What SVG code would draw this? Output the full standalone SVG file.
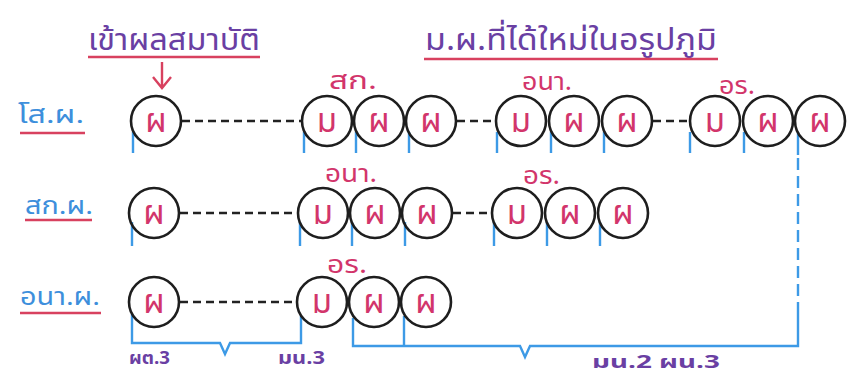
<svg xmlns="http://www.w3.org/2000/svg" width="854" height="382" viewBox="0 0 854 382">
<style>
.c{fill:none;stroke:#1e1e1e;stroke-width:2.6}
.t{font-family:"Noto Sans Thai","Noto Sans","DejaVu Sans",sans-serif;font-size:33px;fill:#d2356b;text-anchor:middle}
.lab{font-family:"Noto Sans Thai","Noto Sans","DejaVu Sans",sans-serif;font-size:25px;fill:#d2356b}
.row{font-family:"Noto Sans Thai","Noto Sans","DejaVu Sans",sans-serif;font-size:24px;fill:#3d8fdc}
.ttl{font-family:"Noto Sans Thai","Noto Sans","DejaVu Sans",sans-serif;font-size:30px;fill:#6a3fa3}
.bot{font-family:"Noto Sans Thai","Noto Sans","DejaVu Sans",sans-serif;font-size:17px;fill:#6a3fa3;font-weight:bold}
.ul{stroke:#d8415f;stroke-width:2.4;fill:none}
.dash{stroke:#222;stroke-width:2.4;stroke-dasharray:8 5;fill:none}
.tk{stroke:#3d9ae6;stroke-width:2.4;fill:none}
.tkd{stroke:#3d9ae6;stroke-width:2.4;fill:none;stroke-dasharray:12 6}
</style>
<rect width="854" height="382" fill="#ffffff"/>

<g id="titles">
<text class="ttl" x="88" y="50" textLength="172" lengthAdjust="spacingAndGlyphs">เข้าผลสมาบัติ</text>
<line class="ul" x1="88" y1="57" x2="260" y2="57"/>
<text class="ttl" x="425" y="50" textLength="292" lengthAdjust="spacingAndGlyphs">ม.ผ.ที่ได้ใหม่ในอรูปภูมิ</text>
<line class="ul" x1="424" y1="59" x2="718" y2="59"/>
<path d="M162 62 V88 M153 77 L162 88 L171 77" stroke="#d8415f" stroke-width="2.4" fill="none"/>
</g>

<g id="row-labels">
<text class="row" x="18" y="123" textLength="66" lengthAdjust="spacingAndGlyphs">โส.ผ.</text>
<line class="ul" x1="20" y1="133" x2="85" y2="133"/>
<text class="row" x="25" y="214" textLength="68" lengthAdjust="spacingAndGlyphs">สก.ผ.</text>
<line class="ul" x1="25" y1="220" x2="92" y2="220"/>
<text class="row" x="20" y="305" textLength="80" lengthAdjust="spacingAndGlyphs">อนา.ผ.</text>
<line class="ul" x1="20" y1="313" x2="101" y2="313"/>
</g>

<g id="connectors">
<line class="dash" x1="182" y1="121" x2="302" y2="121"/>
<line class="dash" x1="457" y1="121" x2="495" y2="121"/>
<line class="dash" x1="653" y1="121" x2="690" y2="121"/>
<line class="dash" x1="180" y1="213" x2="298" y2="213"/>
<line class="dash" x1="453" y1="213" x2="492" y2="213"/>
<line class="dash" x1="180" y1="302" x2="297" y2="302"/>
</g>

<g id="ticks">
<path class="tk" d="M133 132V153 M304 132V153 M356 132V153 M409 132V153 M497 132V153 M551 132V153 M604 132V153 M690 132V153 M744 132V153 M798 132V155"/>
<path class="tkd" d="M798 158V313"/>
<path class="tk" d="M132 222V246 M300 222V246 M352 222V246 M405 222V246 M494 222V246 M547 222V246 M600 222V246"/>
</g>

<g id="brackets">
<path class="tk" d="M132 314V343H220L225 354L230 343H301V316"/>
<path class="tk" d="M353 318V346H520L525 357L530 346H798V313"/>
<path class="tk" d="M404 316V346"/>
</g>

<g id="bottom-labels">
<text class="bot" x="129" y="364" textLength="41" lengthAdjust="spacingAndGlyphs">ผต.3</text>
<text class="bot" x="278" y="364" textLength="47" lengthAdjust="spacingAndGlyphs">มน.3</text>
<text class="bot" x="592" y="368" textLength="128" lengthAdjust="spacingAndGlyphs">มน.2 ผน.3</text>
</g>

<g id="node-labels">
<text class="lab" x="329" y="89" textLength="48" lengthAdjust="spacingAndGlyphs">สก.</text>
<text class="lab" x="522" y="90" textLength="50" lengthAdjust="spacingAndGlyphs">อนา.</text>
<text class="lab" x="719" y="94" textLength="36" lengthAdjust="spacingAndGlyphs">อร.</text>
<text class="lab" x="325" y="182" textLength="52" lengthAdjust="spacingAndGlyphs">อนา.</text>
<text class="lab" x="523" y="184" textLength="37" lengthAdjust="spacingAndGlyphs">อร.</text>
<text class="lab" x="327" y="273" textLength="40" lengthAdjust="spacingAndGlyphs">อร.</text>
</g>

<g id="n1-1"><circle class="c" cx="156" cy="121" r="25"/><text class="t" x="156" y="132">ผ</text></g>
<g id="n1-2"><circle class="c" cx="327" cy="121" r="25"/><text class="t" x="327" y="132">ม</text></g>
<g id="n1-3"><circle class="c" cx="379" cy="121" r="25"/><text class="t" x="379" y="132">ผ</text></g>
<g id="n1-4"><circle class="c" cx="431" cy="121" r="25"/><text class="t" x="431" y="132">ผ</text></g>
<g id="n1-5"><circle class="c" cx="521" cy="121" r="25"/><text class="t" x="521" y="132">ม</text></g>
<g id="n1-6"><circle class="c" cx="574" cy="121" r="25"/><text class="t" x="574" y="132">ผ</text></g>
<g id="n1-7"><circle class="c" cx="627" cy="121" r="25"/><text class="t" x="627" y="132">ผ</text></g>
<g id="n1-8"><circle class="c" cx="715" cy="121" r="25"/><text class="t" x="715" y="132">ม</text></g>
<g id="n1-9"><circle class="c" cx="768" cy="121" r="25"/><text class="t" x="768" y="132">ผ</text></g>
<g id="n1-10"><circle class="c" cx="820" cy="121" r="25"/><text class="t" x="820" y="132">ผ</text></g>

<g id="n2-1"><circle class="c" cx="154" cy="213" r="25"/><text class="t" x="154" y="224">ผ</text></g>
<g id="n2-2"><circle class="c" cx="323" cy="213" r="25"/><text class="t" x="323" y="224">ม</text></g>
<g id="n2-3"><circle class="c" cx="375" cy="213" r="25"/><text class="t" x="375" y="224">ผ</text></g>
<g id="n2-4"><circle class="c" cx="427" cy="213" r="25"/><text class="t" x="427" y="224">ผ</text></g>
<g id="n2-5"><circle class="c" cx="517" cy="213" r="25"/><text class="t" x="517" y="224">ม</text></g>
<g id="n2-6"><circle class="c" cx="570" cy="213" r="25"/><text class="t" x="570" y="224">ผ</text></g>
<g id="n2-7"><circle class="c" cx="623" cy="213" r="25"/><text class="t" x="623" y="224">ผ</text></g>

<g id="n3-1"><circle class="c" cx="154" cy="302" r="25"/><text class="t" x="154" y="313">ผ</text></g>
<g id="n3-2"><circle class="c" cx="322" cy="302" r="25"/><text class="t" x="322" y="313">ม</text></g>
<g id="n3-3"><circle class="c" cx="374" cy="302" r="25"/><text class="t" x="374" y="313">ผ</text></g>
<g id="n3-4"><circle class="c" cx="426" cy="302" r="25"/><text class="t" x="426" y="313">ผ</text></g>
</svg>
